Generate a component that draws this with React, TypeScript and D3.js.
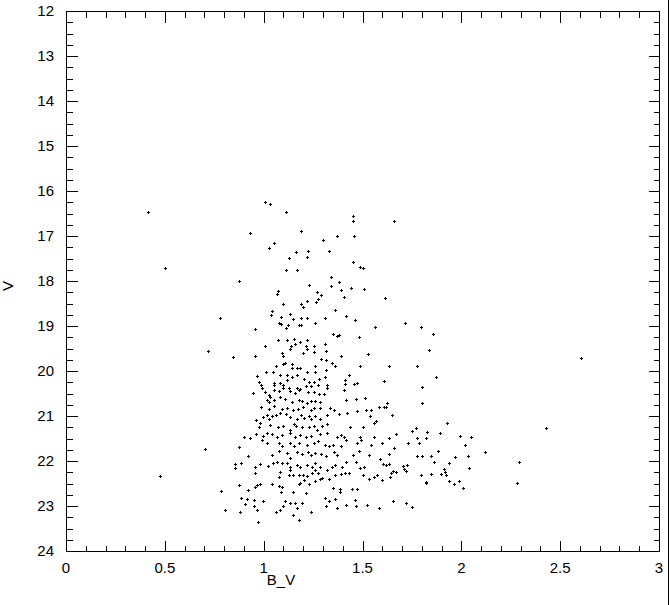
import React from "react";
import * as d3 from "d3";

const WIDTH = 669;
const HEIGHT = 605;
const LEFT = 66;
const RIGHT = 659;
const TOP = 11;
const BOTTOM = 551;

const xTickLabels = ["0", "0.5", "1", "1.5", "2", "2.5", "3"];
const yTickLabels = ["12", "13", "14", "15", "16", "17", "18", "19", "20", "21", "22", "23", "24"];

// [B_V, V], split by region
const brightStars: [number, number][] = [
  [0.415, 16.47], [0.5, 17.71], [0.78, 18.82], [0.877, 18.0], [0.933, 16.93],
  [1.009, 16.24], [1.034, 16.29], [1.115, 16.47], [1.19, 16.89], [1.45, 16.56],
  [1.45, 16.67], [1.66, 16.67], [1.3, 17.09], [1.37, 17.0], [1.455, 17.0],
  [1.05, 17.16], [1.029, 17.27], [1.165, 17.36], [1.225, 17.33], [1.13, 17.49],
  [1.22, 17.47], [1.33, 17.33], [1.45, 17.58], [1.485, 17.69], [1.5, 17.71],
  [1.115, 17.76], [1.17, 17.76], [1.34, 17.91], [1.38, 18.02], [1.23, 18.09],
  [1.34, 18.11], [1.44, 18.16], [1.51, 18.18], [1.07, 18.22], [1.065, 18.29],
  [1.27, 18.24], [1.29, 18.31], [1.39, 18.2], [1.405, 18.36], [1.275, 18.4],
  [1.615, 18.38], [1.097, 18.51], [1.19, 18.51], [1.22, 18.44], [1.263, 18.47],
  [1.2, 18.58], [1.043, 18.67], [1.039, 18.76], [1.36, 18.64], [1.09, 18.8],
  [1.135, 18.73], [1.148, 18.84], [1.19, 18.82], [1.22, 18.82], [1.31, 18.82],
  [1.415, 18.78], [1.46, 18.87], [1.08, 18.93], [1.09, 18.96], [1.125, 18.98],
  [1.115, 19.04], [1.18, 18.98], [1.19, 18.98], [1.262, 18.93], [1.565, 19.02],
  [0.955, 19.07], [1.715, 18.93], [1.797, 19.02], [1.858, 19.18], [1.835, 19.53],
  [0.718, 19.56], [0.846, 19.69],
];

const redStars: [number, number][] = [
  [2.605, 19.71], [2.43, 21.27], [2.29, 22.02], [2.28, 22.49],
  [1.632, 19.89], [1.774, 19.89], [1.87, 20.13], [1.607, 20.22], [1.799, 20.36],
  [1.622, 20.71], [1.61, 20.8], [1.799, 20.71], [1.65, 20.98], [1.926, 21.16],
  [1.772, 21.27], [1.749, 21.33], [1.827, 21.36], [1.89, 21.38], [1.667, 21.4],
  [1.995, 21.44], [2.047, 21.47], [1.633, 21.49], [1.774, 21.49], [1.82, 21.49],
  [1.597, 21.6], [1.73, 21.6], [1.784, 21.6], [2.02, 21.64], [1.66, 21.71],
  [1.88, 21.78], [2.12, 21.8], [1.632, 21.85], [1.777, 21.9], [1.799, 21.9],
  [1.845, 21.9], [1.967, 21.91], [2.032, 21.89], [1.59, 21.96], [1.86, 22.02],
  [1.94, 22.04], [1.605, 22.07], [1.62, 22.08], [1.635, 22.07], [1.706, 22.1],
  [1.724, 22.08], [2.037, 22.15], [1.708, 22.17], [1.654, 22.23], [1.667, 22.25],
  [1.645, 22.27], [1.72, 22.23], [1.91, 22.17], [1.917, 22.24], [1.896, 22.28],
  [1.922, 22.3], [1.797, 22.3], [1.845, 22.28], [1.64, 22.36], [1.597, 22.43],
  [1.823, 22.46], [1.823, 22.49], [1.94, 22.44], [1.965, 22.5], [1.987, 22.44],
  [2.007, 22.6], [1.652, 22.88], [1.718, 22.94], [1.749, 23.02],
];

const coreStars: [number, number][] = [
  [1.353, 19.18], [1.37, 19.22], [1.38, 19.2], [1.48, 19.24], [1.07, 19.31],
  [1.12, 19.31], [1.152, 19.29], [1.186, 19.35], [1.22, 19.31], [1.256, 19.44],
  [1.308, 19.41], [1.005, 19.44], [1.14, 19.44], [1.157, 19.41], [1.216, 19.44],
  [1.22, 19.51], [1.133, 19.52], [1.198, 19.61], [1.093, 19.61], [1.256, 19.58],
  [0.958, 19.67], [1.1, 19.67], [1.313, 19.56], [1.389, 19.67], [1.53, 19.62],
  [1.292, 19.74], [1.316, 19.76], [1.346, 19.83], [1.363, 19.9], [1.487, 19.88],
  [1.064, 19.9], [1.1, 19.85], [1.11, 19.83], [1.145, 19.84], [1.145, 19.93],
  [1.17, 19.94], [1.186, 19.94], [1.22, 20.03], [1.262, 19.9], [1.262, 20.02],
  [1.313, 19.98], [1.014, 20.02], [1.048, 20.02], [1.085, 20.09], [1.119, 20.09],
  [1.144, 20.13], [1.17, 20.09], [1.205, 20.18], [1.23, 20.24], [1.255, 20.24],
  [1.28, 20.18], [1.308, 20.13], [0.966, 20.11], [0.988, 20.3], [0.975, 20.24],
  [1.05, 20.26], [1.054, 20.32], [1.085, 20.26], [1.098, 20.3], [1.119, 20.2],
  [1.13, 20.38], [1.17, 20.38], [1.181, 20.42], [1.214, 20.34], [1.237, 20.34],
  [1.274, 20.31], [1.32, 20.31], [1.32, 20.38], [1.409, 20.2], [1.412, 20.29],
  [1.432, 20.09], [1.457, 20.28], [1.474, 20.26], [0.944, 20.49], [0.992, 20.38],
  [1.009, 20.46], [1.026, 20.53], [1.034, 20.58], [1.054, 20.42], [1.08, 20.44],
  [1.1, 20.38], [1.135, 20.44], [1.161, 20.48], [1.186, 20.41], [1.222, 20.46],
  [1.255, 20.46], [1.28, 20.51], [1.306, 20.51], [1.404, 20.42], [1.017, 20.64],
  [1.026, 20.7], [1.05, 20.64], [1.085, 20.58], [1.11, 20.63], [1.144, 20.68],
  [1.178, 20.64], [1.195, 20.66], [1.22, 20.72], [1.237, 20.67], [1.262, 20.66],
  [1.284, 20.68], [1.414, 20.64], [1.465, 20.63], [1.512, 20.61], [0.987, 20.81],
  [1.026, 20.85], [1.05, 20.78], [1.093, 20.85], [1.12, 20.83], [1.148, 20.87],
  [1.172, 20.85], [1.199, 20.8], [1.237, 20.87], [1.255, 20.83], [1.287, 20.83],
  [1.334, 20.83], [1.355, 20.87], [1.38, 20.96], [1.422, 20.93], [1.474, 20.89],
  [1.52, 20.87], [1.545, 20.87], [1.583, 20.8], [1.617, 20.8], [0.998, 21.02],
  [1.017, 20.98], [1.026, 21.07], [1.043, 21.0], [1.064, 20.98], [1.085, 20.93],
  [1.115, 20.96], [1.135, 21.03], [1.17, 21.07], [1.191, 20.98], [1.202, 21.05],
  [1.23, 21.0], [1.237, 21.07], [1.262, 21.01], [1.287, 21.07], [1.32, 20.98],
  [1.54, 21.01], [1.566, 21.1], [0.963, 21.09], [0.98, 21.16], [0.975, 21.24],
  [1.034, 21.2], [1.071, 21.24], [1.098, 21.22], [1.132, 21.31], [1.152, 21.18],
  [1.166, 21.22], [1.195, 21.25], [1.23, 21.24], [1.255, 21.22], [1.272, 21.31],
  [1.295, 21.22], [1.32, 21.18], [1.436, 21.25], [1.5, 21.24], [1.557, 21.16],
  [0.898, 21.47], [0.933, 21.49], [0.963, 21.4], [0.998, 21.44], [1.017, 21.37],
  [1.043, 21.4], [1.068, 21.46], [1.093, 21.42], [1.135, 21.38], [1.161, 21.46],
  [1.183, 21.42], [1.216, 21.47], [1.24, 21.44], [1.287, 21.4], [1.32, 21.38],
  [1.37, 21.46], [1.389, 21.42], [1.404, 21.46], [1.487, 21.47], [1.557, 21.47],
];

const faintStars: [number, number][] = [
  [0.476, 22.33], [0.877, 21.69], [0.702, 21.73], [0.857, 22.07], [0.857, 22.16],
  [0.877, 22.53], [0.786, 22.67], [0.806, 23.09], [0.88, 23.13],
  [0.922, 21.89], [0.99, 21.53], [1.017, 21.6], [1.078, 21.59], [1.093, 21.67],
  [1.132, 21.6], [1.152, 21.67], [1.179, 21.6], [1.22, 21.64], [1.255, 21.6],
  [1.275, 21.55], [1.308, 21.64], [1.33, 21.67], [1.351, 21.64], [1.389, 21.67],
  [1.419, 21.53], [1.474, 21.59], [1.49, 21.53], [1.545, 21.64], [1.043, 21.87],
  [1.078, 21.77], [1.119, 21.83], [1.132, 21.94], [1.17, 21.79], [1.195, 21.84],
  [1.222, 21.79], [1.237, 21.87], [1.262, 21.83], [1.29, 21.84], [1.313, 21.9],
  [1.355, 21.79], [1.37, 21.87], [1.45, 21.87], [1.48, 21.77], [1.531, 21.87],
  [0.887, 22.04], [0.958, 22.14], [0.983, 22.07], [1.022, 22.11], [1.049, 22.05],
  [1.069, 22.02], [1.093, 22.04], [1.119, 22.05], [1.135, 22.14], [1.17, 22.09],
  [1.186, 22.13], [1.22, 22.09], [1.245, 22.13], [1.262, 22.05], [1.284, 22.13],
  [1.318, 22.19], [1.346, 22.14], [1.363, 22.09], [1.397, 22.13], [1.414, 22.02],
  [1.465, 22.02], [1.487, 22.16], [1.51, 22.14], [0.958, 22.27], [1.08, 22.36],
  [1.085, 22.24], [1.127, 22.31], [1.135, 22.2], [1.15, 22.31], [1.18, 22.31],
  [1.199, 22.31], [1.22, 22.33], [1.242, 22.26], [1.262, 22.2], [1.274, 22.27],
  [1.295, 22.37], [1.32, 22.2], [1.33, 22.39], [1.363, 22.31], [1.389, 22.29],
  [1.409, 22.27], [1.43, 22.26], [1.505, 22.31], [1.531, 22.39], [1.557, 22.35],
  [1.574, 22.31], [0.958, 22.58], [0.966, 22.53], [0.983, 22.5], [1.043, 22.51],
  [1.08, 22.56], [1.093, 22.57], [1.179, 22.51], [1.206, 22.42], [1.23, 22.5],
  [1.262, 22.44], [1.287, 22.41], [1.186, 22.48], [1.353, 22.6], [1.384, 22.63],
  [1.447, 22.63], [1.47, 22.63], [0.922, 22.64], [1.09, 22.68], [1.148, 22.68],
  [1.216, 22.71], [1.384, 22.68], [0.883, 22.83], [0.917, 22.85], [0.95, 22.87],
  [0.998, 22.9], [1.11, 22.9], [1.135, 22.93], [1.157, 22.94], [1.195, 22.93],
  [1.308, 22.82], [1.33, 22.9], [1.363, 22.85], [1.46, 22.87], [0.907, 22.96],
  [0.95, 23.0], [1.1, 23.0], [1.313, 23.0], [1.37, 23.05], [1.414, 22.98],
  [1.465, 23.0], [1.524, 22.98], [1.581, 23.05], [0.966, 23.09], [1.064, 23.13],
  [1.085, 23.09], [1.17, 23.05], [1.237, 23.13], [0.973, 23.36], [1.15, 23.2],
  [1.177, 23.31],
];

const stars = [...brightStars, ...redStars, ...coreStars, ...faintStars];

const FONT = "'Liberation Sans', Arial, sans-serif";

export default function App() {
  const x = d3.scaleLinear().domain([0, 3]).range([LEFT, RIGHT]);
  const y = d3.scaleLinear().domain([12, 24]).range([TOP, BOTTOM]);

  const xMinor = d3.range(0, 31).map((i) => i / 10);
  const yMinor = d3.range(0, 49).map((i) => 12 + i / 4);
  const isXMajor = (v: number) => Math.abs(v * 2 - Math.round(v * 2)) < 1e-6;
  const isYMajor = (v: number) => Math.abs(v - Math.round(v)) < 1e-6;

  const px = (v: number) => Math.round(v) + 0.5;

  return (
    <svg
      width={WIDTH}
      height={HEIGHT}
      style={{ position: "absolute", left: 0, top: 0, background: "#fff" }}
    >
      <rect x={0} y={0} width={WIDTH} height={HEIGHT} fill="#fff" />
      <g stroke="#000" strokeWidth={1} shapeRendering="crispEdges" fill="none">
        <rect x={px(LEFT)} y={px(TOP)} width={Math.round(RIGHT - LEFT)} height={Math.round(BOTTOM - TOP)} />
        {xMinor.map((v) => {
          const len = isXMajor(v) ? 11 : 6;
          const cx = px(x(v));
          return (
            <g key={`xt${v}`}>
              <line x1={cx} x2={cx} y1={px(BOTTOM)} y2={px(BOTTOM) - len} />
              <line x1={cx} x2={cx} y1={px(TOP)} y2={px(TOP) + len} />
            </g>
          );
        })}
        {yMinor.map((v) => {
          const len = isYMajor(v) ? 11 : 6;
          const cy = px(y(v));
          return (
            <g key={`yt${v}`}>
              <line x1={px(LEFT)} x2={px(LEFT) + len} y1={cy} y2={cy} />
              <line x1={px(RIGHT)} x2={px(RIGHT) - len} y1={cy} y2={cy} />
            </g>
          );
        })}
        <line x1={668.5} x2={668.5} y1={0} y2={HEIGHT} />
      </g>

      <g fontFamily={FONT} fontSize={15} fill="#000">
        {xTickLabels.map((t) => (
          <text key={`xl${t}`} x={x(+t)} y={BOTTOM + 22} textAnchor="middle">
            {t}
          </text>
        ))}
        {yTickLabels.map((t) => (
          <text key={`yl${t}`} x={LEFT - 12} y={y(+t) + 5} textAnchor="end">
            {t}
          </text>
        ))}
        <text x={281} y={BOTTOM + 34} textAnchor="middle">
          B_V
        </text>
        <text transform={`translate(13, ${(TOP + BOTTOM) / 2 + 5}) rotate(-90)`} textAnchor="middle">
          V
        </text>
      </g>

      <g stroke="#000" strokeWidth={1} shapeRendering="crispEdges" fill="none">
        {stars.map(([bv, v], i) => {
          const cx = px(x(bv));
          const cy = px(y(v));
          return (
            <path
              key={i}
              d={`M${cx - 1.5},${cy}H${cx + 1.5}M${cx},${cy - 1.5}V${cy + 1.5}`}
            />
          );
        })}
      </g>
    </svg>
  );
}
